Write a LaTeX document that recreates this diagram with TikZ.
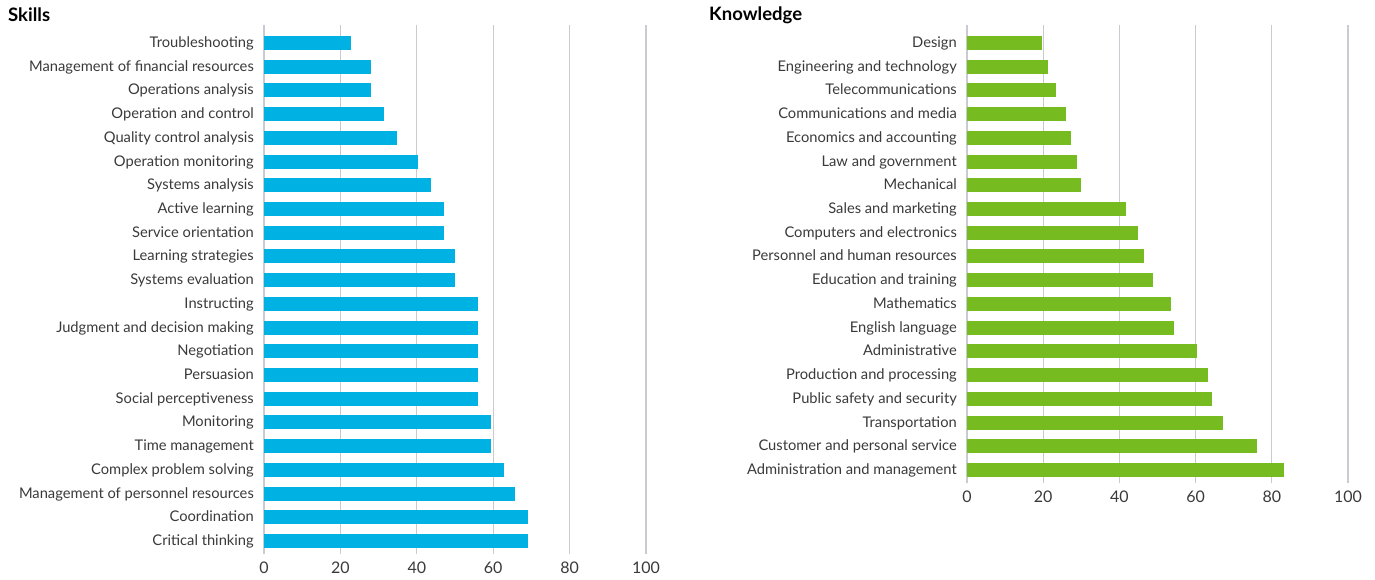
\documentclass[tikz,border=0pt]{standalone}
\usepackage{fontspec}
\setmainfont{Lato}
\usepackage{xcolor}
\usetikzlibrary{positioning}
\definecolor{skillblue}{HTML}{00B2E3}
\definecolor{knowgreen}{HTML}{76BC21}
\definecolor{gridgray}{HTML}{C8CBD0}
\definecolor{txtgray}{HTML}{3A3A3A}

\begin{document}
\begin{tikzpicture}[x=1pt, y=-1pt]
\tikzstyle{lbl} = [anchor=east, inner sep=0, text=txtgray, font=\fontsize{14.7}{15}\selectfont, text height=12pt, text depth=3pt]
\tikzstyle{tick} = [inner sep=0, text=txtgray, font=\fontsize{16}{16}\selectfont]
\tikzstyle{title} = [anchor=west, inner sep=0, text=black, font=\bfseries\fontsize{18.5}{18.5}\selectfont]
\tikzstyle{grid} = [gridgray, line width=1.2pt]
\useasboundingbox (0,0) rectangle (1375,579);

% Skills
\node[title] (skills) at (8,15) {Skills};
\foreach \g [count=\k from 0] in {0,20,...,100} {
  \draw[grid] ({264+76.4*\k},25) -- ({264+76.4*\k},554);
  \node[tick] (st\k) at ({264+76.4*\k},568) {\g};
}
\foreach \lab/\v [count=\i from 0] in {Troubleshooting/22.7, Management of financial resources/28.0,
  Operations analysis/28.0, Operation and control/31.5, Quality control analysis/34.9,
  Operation monitoring/40.4, Systems analysis/43.8, Active learning/47.2,
  Service orientation/47.2, Learning strategies/50.1, Systems evaluation/50.1,
  Instructing/56.1, Judgment and decision making/56.1, Negotiation/56.1,
  Persuasion/56.1, Social perceptiveness/56.1, Monitoring/59.4,
  Time management/59.4, Complex problem solving/62.8,
  Management of personnel resources/65.8, Coordination/69.1, Critical thinking/69.1} {
  \fill[skillblue] (264,{43+23.71*\i-7}) rectangle ({264+3.82*\v},{43+23.71*\i+7});
  \node[lbl] (s\i) at (254,{43+23.71*\i}) {\lab};
}

% Knowledge
\node[title] (knowledge) at (709,15) {Knowledge};
\foreach \g [count=\k from 0] in {0,20,...,100} {
  \draw[grid] ({967+76.2*\k},25) -- ({967+76.2*\k},483);
  \node[tick] (kt\k) at ({967+76.2*\k},497) {\g};
}
\foreach \lab/\v [count=\i from 0] in {Design/19.6, Engineering and technology/21.2,
  Telecommunications/23.4, Communications and media/26.0, Economics and accounting/27.4,
  Law and government/28.9, Mechanical/29.9, Sales and marketing/41.8,
  Computers and electronics/44.8, Personnel and human resources/46.4,
  Education and training/48.8, Mathematics/53.5, English language/54.3,
  Administrative/60.4, Production and processing/63.2, Public safety and security/64.2,
  Transportation/67.2, Customer and personal service/76.1,
  Administration and management/83.2} {
  \fill[knowgreen] (967,{43+23.72*\i-7}) rectangle ({967+3.81*\v},{43+23.72*\i+7});
  \node[lbl] (k\i) at (957,{43+23.72*\i}) {\lab};
}
\end{tikzpicture}
\end{document}
